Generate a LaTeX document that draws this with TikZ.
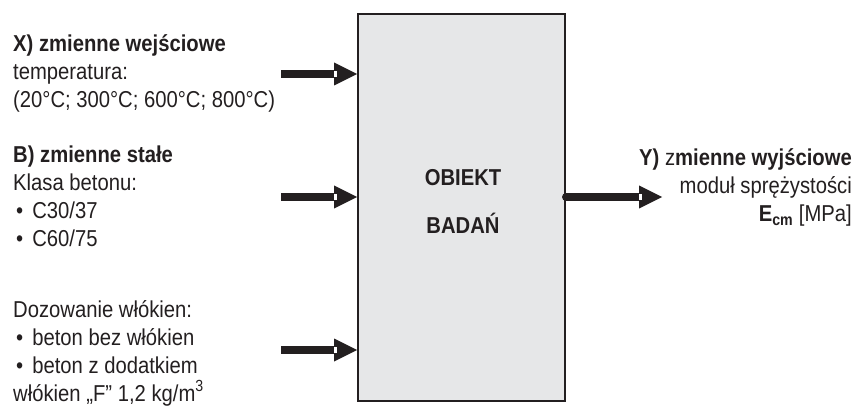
\documentclass[tikz,border=0pt]{standalone}
\usepackage{fontspec}
\setmainfont{Liberation Sans}[FakeStretch=0.88]
\usetikzlibrary{arrows.meta,calc}
\definecolor{ink}{HTML}{231F20}
\definecolor{boxgray}{HTML}{E6E7E8}
\newcommand{\itembul}{\hspace{3pt}\textbullet\hspace{9pt}}

\begin{document}
\begin{tikzpicture}[x=1pt, y=-1pt, every node/.style={font=\fontsize{23}{28}\selectfont, text=ink, inner sep=0pt},
	flow/.style={draw=ink, line width=8pt, -{Triangle[length=23pt, width=23pt, line width=0pt]}},
	notch/.style={fill=white}]
	\useasboundingbox (0,0) rectangle (856,406);
	\node[draw=ink, fill=boxgray, line width=2pt, minimum width=207pt, minimum height=387pt] (obj) at (461.5,207.5) {};
	\node[align=center] (objtxt) at (463,201) {\textbf{OBIEKT}\\[20pt]\textbf{BADAŃ}};
	\node[anchor=base west, align=left] (inX) at (13,108) {\textbf{X) zmienne wejściowe}\\temperatura:\\(20°C; 300°C; 600°C; 800°C)};
	\node[anchor=base west, align=left] (inB) at (13,246) {\textbf{B) zmienne stałe}\\Klasa betonu:\\\itembul C30/37\\\itembul C60/75};
	\node[anchor=base west, align=left] (inD) at (13,401) {Dozowanie włókien:\\\itembul beton bez włókien\\\itembul beton z dodatkiem\\włókien „F” 1,2 kg/m\textsuperscript{3}};
	\node[anchor=base east, align=right] (outY) at (852,222) {\textbf{Y)} z\textbf{mienne wyjściowe}\\moduł sprężystości\\\textbf{E\textsubscript{cm}} [MPa]};
	\coordinate (x0) at (281,74);
	\coordinate (b0) at (281,197);
	\coordinate (d0) at (281,350);
	\coordinate (y1) at (662,197);
	\foreach \c in {x0,b0,d0} {
		\draw[flow] (\c) -- (\c -| obj.west);
		\fill[notch] ($(\c -| obj.west)+(-23,-2.8)$) rectangle +(3,5.6);
	}
	\draw[flow, line cap=round] (y1 -| obj.east) -- (y1);
	\fill[notch] ($(y1)+(-23,-2.8)$) rectangle +(3,5.6);
\end{tikzpicture}
\end{document}
